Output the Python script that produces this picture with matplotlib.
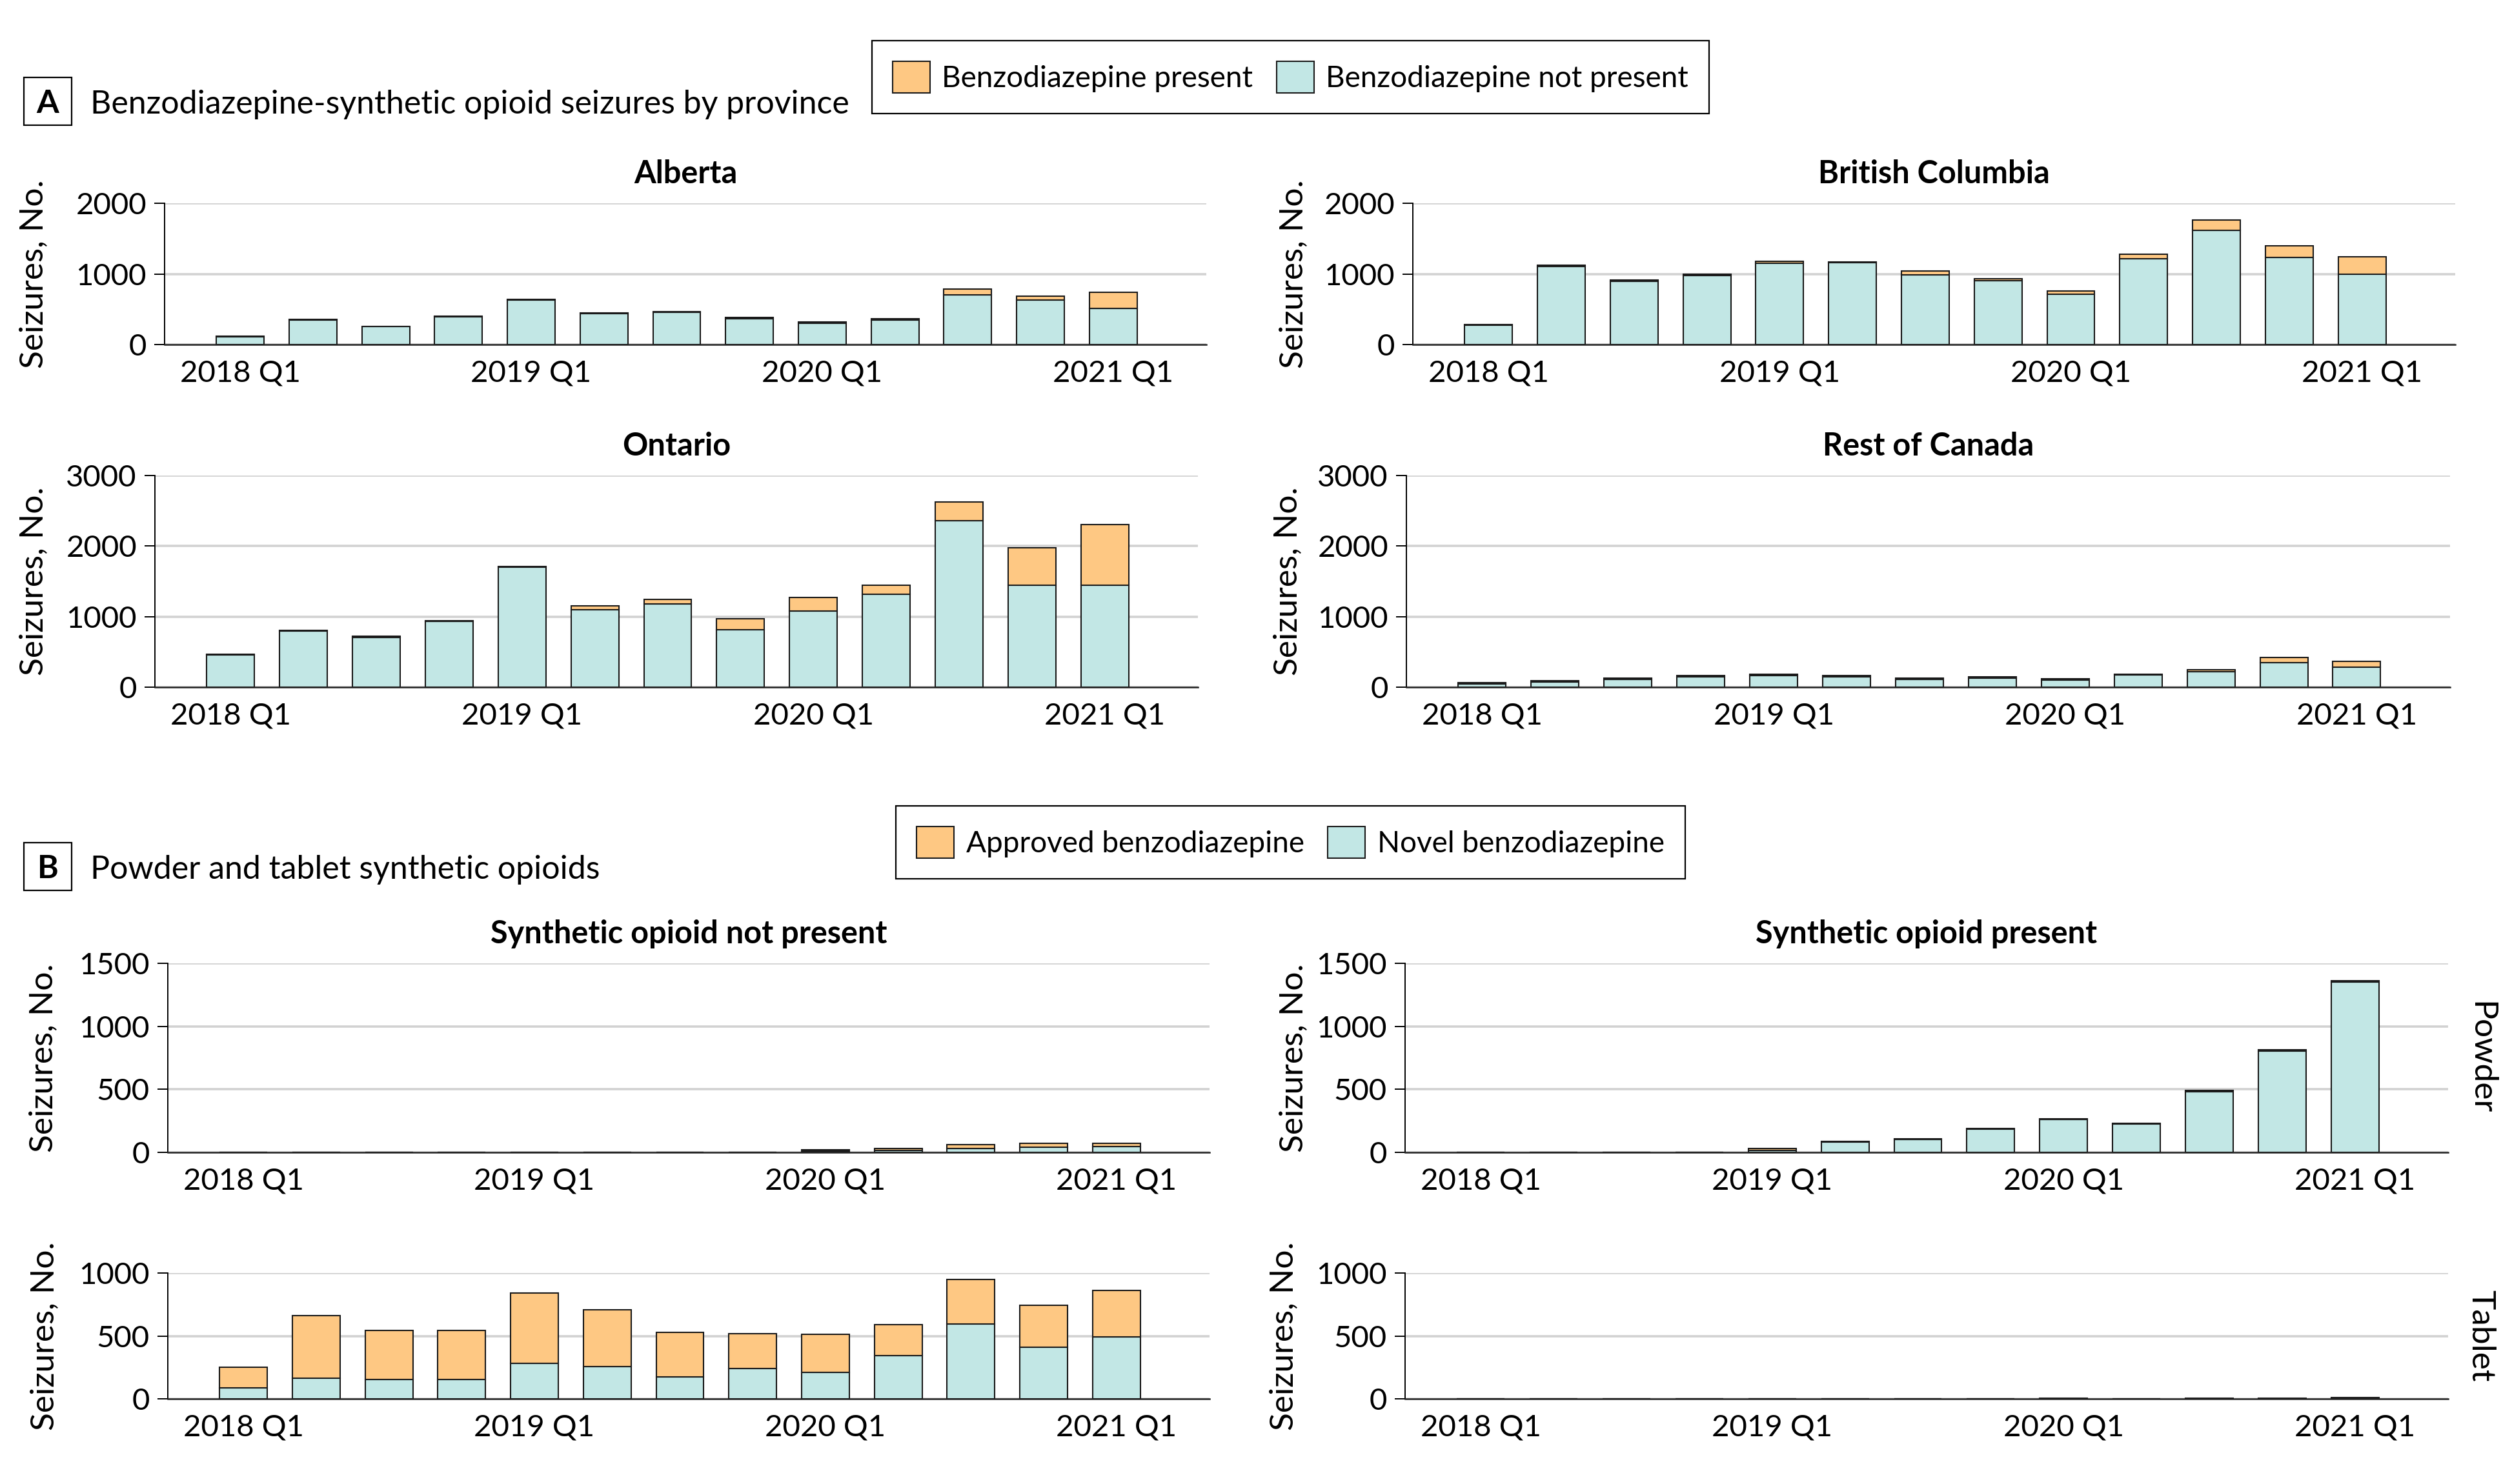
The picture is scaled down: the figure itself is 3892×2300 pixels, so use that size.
import matplotlib
matplotlib.use("Agg")
import matplotlib.pyplot as plt
import matplotlib.patches as mpatches
import numpy as np

plt.rcParams['font.family'] = ['Lato', 'DejaVu Sans']

# ---------------- data ----------------
quarters = ['2018 Q1', '2018 Q2', '2018 Q3', '2018 Q4',
            '2019 Q1', '2019 Q2', '2019 Q3', '2019 Q4',
            '2020 Q1', '2020 Q2', '2020 Q3', '2020 Q4', '2021 Q1']
tick_labels = ['2018 Q1', '2019 Q1', '2020 Q1', '2021 Q1']

# Panel A: benzodiazepine present (orange) / not present (teal)
alberta_not = [110, 350, 252, 392, 632, 440, 460, 366, 299, 345, 706, 628, 511]
alberta_pres = [10, 10, 8, 8, 10, 12, 10, 17, 20, 20, 78, 56, 227]
bc_not = [270, 1108, 898, 980, 1154, 1158, 990, 906, 708, 1218, 1616, 1233, 994]
bc_pres = [14, 12, 12, 12, 21, 14, 55, 21, 52, 58, 148, 162, 248]
ontario_not = [458, 796, 708, 930, 1700, 1100, 1184, 818, 1077, 1315, 2364, 1442, 1442]
ontario_pres = [12, 13, 13, 14, 12, 57, 62, 154, 190, 130, 263, 534, 864]
rest_not = [48, 75, 113, 150, 167, 150, 112, 129, 97, 173, 224, 348, 288]
rest_pres = [15, 13, 15, 16, 18, 16, 17, 18, 25, 12, 21, 75, 76]

# Panel B: approved (orange) / novel (teal) benzodiazepine
powder_noso_novel = [0, 0, 0, 0, 0, 0, 0, 0, 10, 14, 31, 41, 45]
powder_noso_appr = [0, 0, 0, 0, 0, 0, 0, 0, 13, 15, 30, 32, 28]
powder_so_novel = [0, 0, 0, 0, 17, 82, 100, 182, 259, 224, 482, 806, 1350]
powder_so_appr = [0, 0, 0, 0, 14, 6, 8, 6, 6, 7, 8, 10, 10]
tablet_noso_novel = [89, 166, 156, 156, 284, 258, 173, 241, 212, 344, 597, 410, 492]
tablet_noso_appr = [161, 496, 389, 389, 557, 451, 353, 277, 299, 244, 352, 332, 371]
tablet_so_novel = [0, 0, 0, 0, 0, 0, 0, 0, 2, 0, 2, 2, 6]
tablet_so_appr = [0, 0, 0, 0, 0, 0, 0, 0, 2, 0, 2, 2, 6]

legend_a = ['Benzodiazepine present', 'Benzodiazepine not present']
legend_b = ['Approved benzodiazepine', 'Novel benzodiazepine']

# ---------------- style ----------------
W, H = 3892, 2300
DPI = 200
ORANGE = '#FEC883'
TEAL = '#C2E7E5'
EDGE = '#1a1a1a'
GRID = '#d2d2d2'
FS = 16.5
FS_TICK = 17
FS_TITLE = 17.5
FS_YLAB = 18.5
FS_HEAD = 18

fig = plt.figure(figsize=(W / DPI, H / DPI), dpi=DPI)

def px_rect(l, r, t, b):
    return [l / W, 1 - b / H, (r - l) / W, (b - t) / H]

x = np.arange(len(quarters))
tick_pos = [quarters.index(t) for t in tick_labels]

panels = [
    # (rect px l,r,t,b), title, teal data, orange data, ymax, yticks, ylabel right px, side label
    ((255, 1869, 315, 534), 'Alberta', alberta_not, alberta_pres, 2000, [0, 1000, 2000], 75, None),
    ((2189, 3804, 315, 534), 'British Columbia', bc_not, bc_pres, 2000, [0, 1000, 2000], 2027, None),
    ((240, 1856, 737, 1065), 'Ontario', ontario_not, ontario_pres, 3000, [0, 1000, 2000, 3000], 75, None),
    ((2179, 3796, 737, 1065), 'Rest of Canada', rest_not, rest_pres, 3000, [0, 1000, 2000, 3000], 2018, None),
    ((260, 1874, 1493, 1786), 'Synthetic opioid not present', powder_noso_novel, powder_noso_appr, 1500,
     [0, 500, 1000, 1500], 90, None),
    ((2177, 3793, 1493, 1786), 'Synthetic opioid present', powder_so_novel, powder_so_appr, 1500,
     [0, 500, 1000, 1500], 2027, 'Powder'),
    ((260, 1874, 1973, 2168), None, tablet_noso_novel, tablet_noso_appr, 1000, [0, 500, 1000], 92, None),
    ((2177, 3793, 1973, 2168), None, tablet_so_novel, tablet_so_appr, 1000, [0, 500, 1000], 2012, 'Tablet'),
]

handles = {}
for i, (rect, title, teal, orange, ymax, yticks, ylab_px, side) in enumerate(panels):
    ax = fig.add_axes(px_rect(*rect))
    b1 = ax.bar(x, teal, width=0.655, color=TEAL, edgecolor=EDGE, linewidth=0.75, zorder=2)
    b2 = ax.bar(x, orange, width=0.655, bottom=teal, color=ORANGE, edgecolor=EDGE,
                linewidth=0.75, zorder=2)
    if i == 0:
        handles['a'] = [b2, b1]
    if i == 4:
        handles['b'] = [b2, b1]
    ax.set_xlim(-1.04, 13.28)
    ax.set_ylim(0, ymax)
    ax.set_yticks(yticks)
    ax.set_yticklabels([str(v) for v in yticks], fontsize=FS_TICK)
    ax.set_xticks(tick_pos)
    ax.set_xticklabels(tick_labels, fontsize=FS_TICK)
    ax.tick_params(axis='x', length=0, pad=8.5)
    ax.tick_params(axis='y', length=5.8, width=0.7, pad=4.3, color='black')
    ax.yaxis.grid(True, color=GRID, linewidth=1.3, zorder=0)
    ax.set_axisbelow(True)
    for s in ('top', 'right'):
        ax.spines[s].set_visible(False)
    ax.spines['left'].set_linewidth(0.7)
    ax.spines['bottom'].set_linewidth(0.9)
    ax.spines['bottom'].set_color('#222222')
    ax.spines['bottom'].set_zorder(3)
    ax.spines['left'].set_bounds(0, ymax)
    if title:
        ax.set_title(title, fontsize=FS_TITLE, fontweight='bold', pad=11)
    ax.set_ylabel('Seizures, No.', fontsize=FS_YLAB)
    ax.yaxis.set_label_coords(ylab_px / W, 1 - (rect[2] + rect[3]) / 2 / H,
                              transform=fig.transFigure)
    if side:
        fig.text(3843 / W, 1 - (rect[2] + rect[3]) / 2 / H, side, rotation=270,
                 ha='center', va='center', fontsize=FS_YLAB)

# legends
for key, labels, cy in (('a', legend_a, 119.5), ('b', legend_b, 1305.5)):
    lg = fig.legend(handles[key], labels, loc='center', bbox_to_anchor=(1999.5 / W, 1 - cy / H),
                    ncol=2, frameon=True, fancybox=False, edgecolor='black', framealpha=1,
                    fontsize=FS, handlelength=1.26, handleheight=1.26, handletextpad=0.41,
                    columnspacing=0.8, borderpad=0.7)
    lg.get_frame().set_linewidth(0.8)

# section headers
for letter, text, box_top in (('A', 'Benzodiazepine-synthetic opioid seizures by province', 120),
                              ('B', 'Powder and tablet synthetic opioids', 1306)):
    fig.add_artist(mpatches.Rectangle((37 / W, 1 - (box_top + 74) / H), 74 / W, 74 / H,
                                      transform=fig.transFigure, fill=False,
                                      edgecolor='black', linewidth=0.8))
    fig.text(74 / W, 1 - (box_top + 55) / H, letter, ha='center', va='baseline',
             fontsize=FS_HEAD, fontweight='bold')
    fig.text(140 / W, 1 - (box_top + 56) / H, text, ha='left', va='baseline', fontsize=FS_HEAD)

fig.savefig('out.png', dpi=DPI)
